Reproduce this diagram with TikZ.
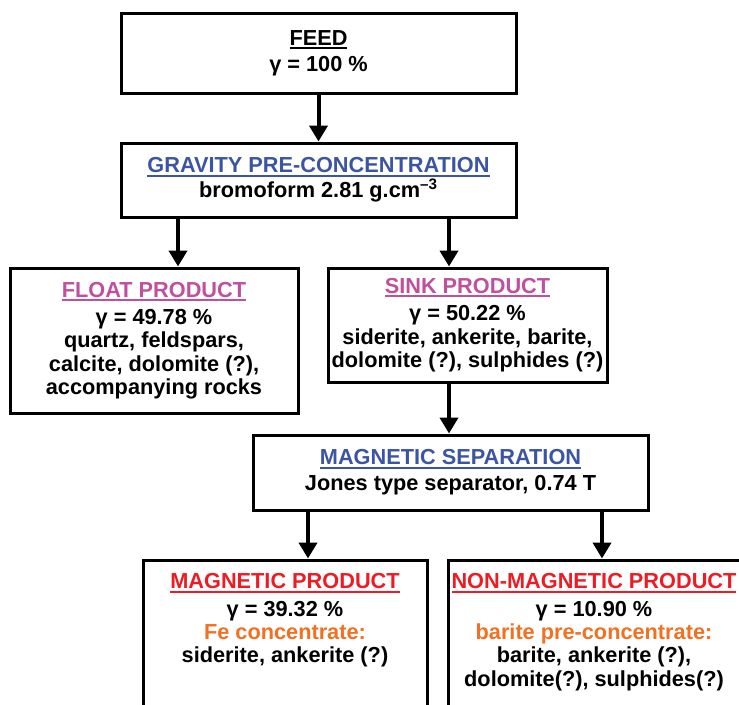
\documentclass[tikz,border=0pt]{standalone}
\usepackage{fontspec}
\setmainfont{Liberation Sans}
\usepackage{tikz}
\usetikzlibrary{arrows.meta, calc}

\definecolor{stageblue}{RGB}{59,85,164}
\definecolor{productpink}{RGB}{191,80,159}
\definecolor{productred}{RGB}{237,28,36}
\definecolor{concorange}{RGB}{243,112,33}

\newcommand{\headline}[2]{{\color{#1}\setbox0\hbox{#2}\rlap{\rule[-3pt]{\wd0}{1.5pt}}\box0}}

\begin{document}
\begin{tikzpicture}[x=0.75pt, y=-0.75pt,
        every node/.style={font=\fontsize{16.3pt}{17.5pt}\selectfont\bfseries},
        stage/.style={draw=black, line width=2.25pt, align=center, inner sep=0pt},
        stagetext/.style={anchor=north, align=center, inner sep=0pt},
        flow/.style={-{Triangle[width=13.5pt,length=12pt]}, line width=3pt, draw=black},
    ]
    \useasboundingbox (0,0) rectangle (739,704);
    \clip (0,0) rectangle (739,704);

    \node[stage, minimum width=296.25pt, minimum height=60pt] at (318.5,53) (feed)
        {\headline{black}{FEED}\\[2pt]γ = 100 \%};
    \node[stage, minimum width=296.25pt, minimum height=55.5pt] at (318.5,180) (gravity)
        {\headline{stageblue}{GRAVITY PRE-CONCENTRATION}\\[1pt]bromoform 2.81 g.cm\textsuperscript{–3}};
    \draw[flow] (feed) -- (gravity);

    \node[stage, minimum width=216pt, minimum height=108.75pt] at (154,340.5) (float)
        {\headline{productpink}{FLOAT PRODUCT}\\[3pt]γ = 49.78 \%\\quartz, feldspars,\\calcite, dolomite (?),\\accompanying rocks};
    \node[stage, minimum width=209.25pt, minimum height=85.5pt] at (467.5,325) (sink)
        {\headline{productpink}{SINK PRODUCT}\\[3pt]γ = 50.22 \%\\siderite, ankerite, barite,\\dolomite (?), sulphides (?)};
    \coordinate (fa) at ($(float.north)+(24,0)$);
    \coordinate (sa) at ($(sink.north)+(-18.5,0)$);
    \draw[flow] (gravity.south -| fa) -- (fa);
    \draw[flow] (gravity.south -| sa) -- (sa);

    \node[stage, minimum width=296.25pt, minimum height=56.25pt] at (450.5,472.5) (magsep)
        {\headline{stageblue}{MAGNETIC SEPARATION}\\[2pt]Jones type separator, 0.74 T};
    \draw[flow] (sink.south -| sa) -- (magsep.north -| sa);

    \node[stage, minimum width=213pt, minimum height=120pt] at (285,640) (magprod) {};
    \node[stagetext] at ($(magprod.north)+(0,15)$) (magtext)
        {\headline{productred}{MAGNETIC PRODUCT}\\[3pt]γ = 39.32 \%\\{\color{concorange}Fe concentrate:}\\siderite, ankerite (?)};
    \node[stage, minimum width=225pt, minimum height=120pt] at (598,640) (nonmag) {};
    \node[stagetext] at ($(nonmag.north)+(-4,15)$) (nonmagtext)
        {\headline{productred}{NON-MAGNETIC PRODUCT}\\[3pt]γ = 10.90 \%\\{\color{concorange}barite pre-concentrate:}\\barite, ankerite (?),\\dolomite(?), sulphides(?)};
    \coordinate (ma) at ($(magprod.north)+(23,0)$);
    \coordinate (na) at ($(nonmag.north)+(4,0)$);
    \draw[flow] (magsep.south -| ma) -- (ma);
    \draw[flow] (magsep.south -| na) -- (na);
\end{tikzpicture}
\end{document}
